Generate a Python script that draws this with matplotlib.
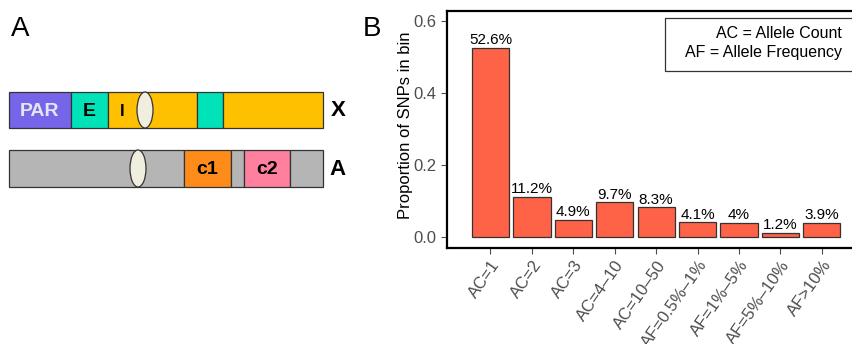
import numpy as np
import matplotlib
matplotlib.use('Agg')
import matplotlib.pyplot as plt
from matplotlib.patches import Rectangle, Ellipse

plt.rcParams['font.family'] = ['Liberation Sans', 'DejaVu Sans']

# 各区间SNP比例
bins = ['AC=1', 'AC=2', 'AC=3', 'AC=4\u201310', 'AC=10\u201350',
        'AF=0.5%\u20131%', 'AF=1%\u20135%', 'AF=5%\u201310%', 'AF>10%']
proportions = [0.526, 0.112, 0.049, 0.097, 0.083, 0.041, 0.040, 0.012, 0.039]
value_labels = ['52.6%', '11.2%', '4.9%', '9.7%', '8.3%', '4.1%', '4%', '1.2%', '3.9%']

# 染色体示意图 (起点, 终点, 颜色, 文字, 文字颜色)
chrX_segments = [(9, 71, '#7665E8', 'PAR', '#E6E6F2'),
                 (71, 108, '#00E3B8', 'E', 'black'),
                 (108, 197, '#FFC000', 'I', 'black'),
                 (197, 223, '#00E3B8', '', 'black'),
                 (223, 323, '#FFC000', '', 'black')]
chrA_segments = [(9, 184, '#B5B5B5', '', 'black'),
                 (184, 231, '#FF8C1A', 'c1', 'black'),
                 (231, 244, '#B5B5B5', '', 'black'),
                 (244, 290, '#FF7F9E', 'c2', 'black'),
                 (290, 323, '#B5B5B5', '', 'black')]
centromeres = {'X': 145, 'A': 138}
chrom_rows = {'X': (92, 128), 'A': (150, 187)}

fig = plt.figure(figsize=(8.53, 3.44), dpi=100)

# B: 柱状图
ax = fig.add_axes([447 / 853, 1 - 248 / 344, 410 / 853, 237 / 344])
x = np.arange(len(bins))
ax.bar(x, proportions, width=0.9, color='#FF6347', edgecolor='#333333', linewidth=0.9)
for xi, p, lab in zip(x, proportions, value_labels):
    ax.text(xi, p + 0.002, lab, ha='center', va='bottom', fontsize=11, color='black')
ax.set_xlim(-1.05, 8.85)
ax.set_ylim(-0.03, 0.628)
ax.set_yticks([0.0, 0.2, 0.4, 0.6])
ax.set_yticklabels(['0.0', '0.2', '0.4', '0.6'])
ax.set_xticks(x)
ax.set_xticklabels(bins, rotation=55, ha='right', rotation_mode='anchor')
ax.tick_params(axis='both', colors='#4D4D4D', labelsize=12, length=4, width=0.8)
ax.tick_params(axis='x', pad=3)
for s in ['left', 'bottom', 'top']:
    ax.spines[s].set_linewidth(1.6)
    ax.spines[s].set_color('black')
ax.spines['right'].set_visible(False)
ax.set_ylabel('Proportion of SNPs in bin', fontsize=12)
ax.yaxis.set_label_coords(-0.083, 0.52)

# A: 染色体示意 + 图例框, 以像素坐标绘制
ov = fig.add_axes([0, 0, 1, 1], zorder=3)
ov.set_xlim(0, 853)
ov.set_ylim(344, 0)
ov.axis('off')
ov.patch.set_alpha(0)

for name, segs in [('X', chrX_segments), ('A', chrA_segments)]:
    top, bot = chrom_rows[name]
    yc = (top + bot) / 2
    for x0, x1, col, txt, tcol in segs:
        ov.add_patch(Rectangle((x0, top), x1 - x0, bot - top, facecolor=col,
                               edgecolor='#333333', linewidth=0.9))
        if txt:
            fs = 12 if txt == 'I' else 14
            xt = (x0 + x1) / 2 if txt != 'I' else 122
            ov.text(xt, yc + 1, txt, ha='center', va='center', fontsize=fs,
                    fontweight='bold', color=tcol)
    ov.add_patch(Ellipse((centromeres[name], yc), 16, bot - top, facecolor='#EFEEDF',
                         edgecolor='#333333', linewidth=0.9))
    ov.text(338, yc + 1, name, ha='center', va='center', fontsize=16, fontweight='bold')

ov.text(20, 29, 'A', ha='center', va='center', fontsize=20)
ov.text(372, 29, 'B', ha='center', va='center', fontsize=20)

# 图例说明框
ov.add_patch(Rectangle((665, 18), 200, 53, facecolor='white', edgecolor='#333333', linewidth=0.9))
ov.text(842, 33, 'AC = Allele Count', ha='right', va='center', fontsize=11.5)
ov.text(842, 53, 'AF = Allele Frequency', ha='right', va='center', fontsize=11.5)

fig.savefig('out.png', dpi=100)
